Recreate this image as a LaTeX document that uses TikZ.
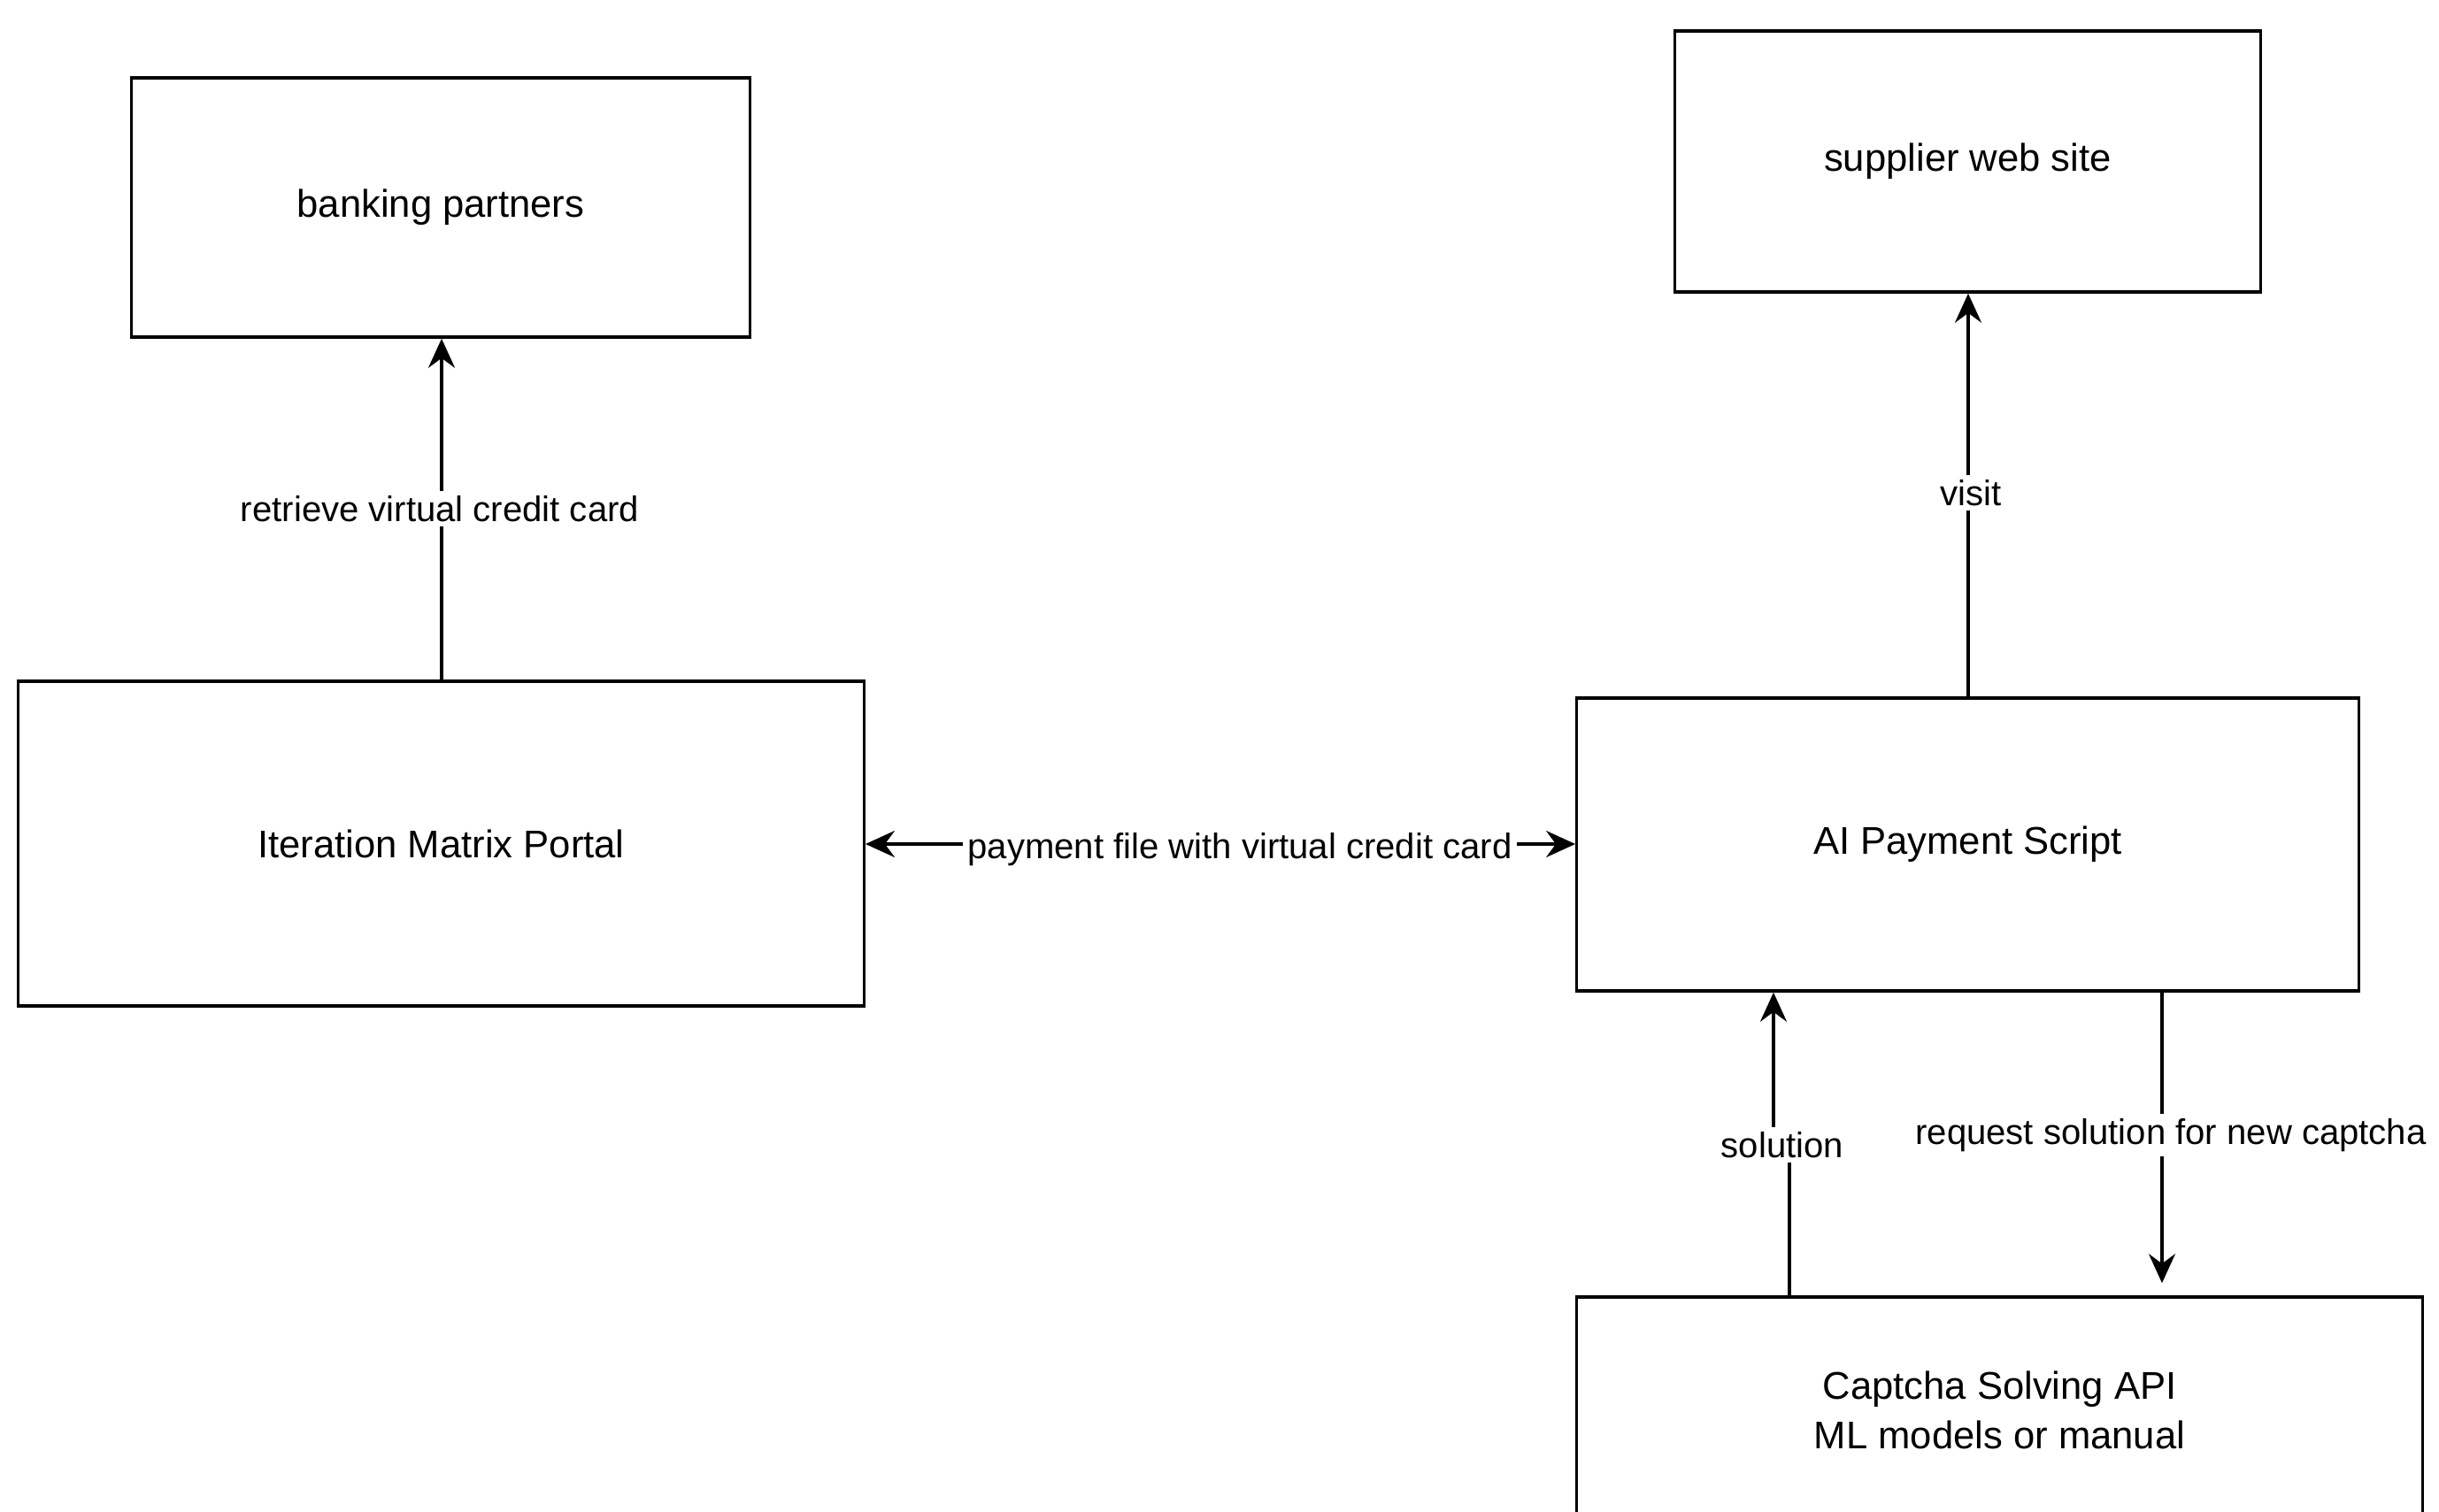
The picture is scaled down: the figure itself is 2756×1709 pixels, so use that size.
\documentclass[tikz,border=0pt]{standalone}
\usepackage{fontspec}
\setmainfont{Liberation Sans}
\usetikzlibrary{arrows.meta,calc}
\begin{document}
\begin{tikzpicture}[x=0.01cm,y=-0.01cm,
  box/.style={draw, line width=0.95pt, inner sep=0pt, align=center,
    font=\fontsize{12.4}{15.9}\selectfont},
  conn/.style={line width=0.95pt, -{Stealth[length=0.33cm,width=0.3cm,inset=0.11cm]}},
  conn2/.style={line width=0.95pt, {Stealth[length=0.33cm,width=0.3cm,inset=0.11cm]}-{Stealth[length=0.33cm,width=0.3cm,inset=0.11cm]}},
  lbl/.style={fill=white, inner sep=1.5pt, font=\fontsize{11.4}{13.7}\selectfont}]
\useasboundingbox (0,0) rectangle (2756,1709);
\fill[white] (0,0) rectangle (2756,1709);

\node[box, minimum width=6.98cm, minimum height=2.93cm] (bank) at (498,234.5) {banking partners};
\node[box, minimum width=6.61cm, minimum height=2.95cm] (supp) at (2223.5,182.5) {supplier web site};
\node[box, minimum width=9.55cm, minimum height=3.67cm] (imp) at (498.5,953.5) {Iteration Matrix Portal};
\node[box, minimum width=8.83cm, minimum height=3.31cm] (ai) at (2223.5,954.5) {AI Payment Script};
\node[box, minimum width=9.55cm, minimum height=2.56cm] (cap) at (2259.5,1594) {Captcha Solving API\\ML models or manual};

% retrieve virtual credit card
\coordinate (rx) at (499,0);
\draw[conn] (rx |- imp.north) -- (rx |- bank.south);
\node[lbl] (lret) at (497,575) {retrieve virtual credit card};

% visit
\coordinate (vx) at (2224,0);
\draw[conn] (vx |- ai.north) -- (vx |- supp.south);
\node[lbl] (lvis) at (2227,557) {visit};

% payment file
\coordinate (py) at (0,954);
\draw[conn2] (imp.east |- py) -- (ai.west |- py);
\node[lbl] (lpay) at (1401,960) {payment file with virtual credit card};

% solution
\coordinate (sxb) at (2022,0);
\coordinate (sxt) at (2004,0);
\coordinate (sm) at (0,1294);
\draw[conn] (sxb |- cap.north) -- (sxb |- sm) -- (sxt |- sm) -- (sxt |- ai.south);
\node[lbl] (lsol) at (2014,1294) {solution};

% request solution
\coordinate (qx) at (2443,0);
\draw[conn, shorten >=0.14cm] (qx |- ai.south) -- (qx |- cap.north);
\node[lbl] (lreq) at (2453,1283) {request solution for new captcha};
\end{tikzpicture}
\end{document}
